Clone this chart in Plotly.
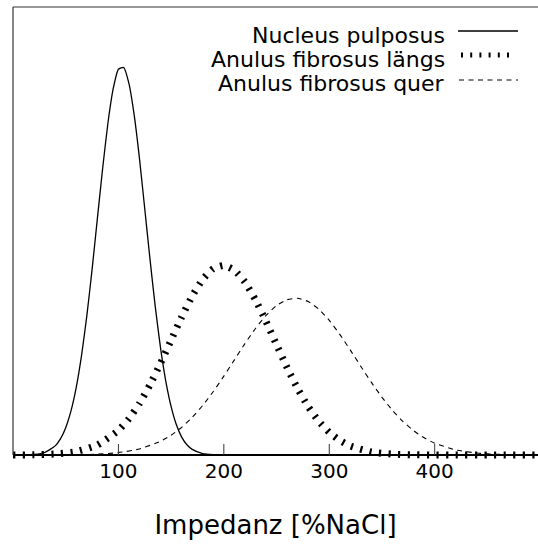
import plotly.graph_objects as go

# ---- data ----
x_nucleus = [0, 10, 20, 30, 40, 45, 50, 55, 60, 65, 70, 75, 80, 85, 90, 95, 100, 105, 110, 115, 120, 125, 130,
             135, 140, 145, 150, 155, 160, 165, 170, 180, 190, 200, 210, 250, 300, 400, 498]
y_nucleus = [0.0, 0.0002, 0.0013, 0.0056, 0.0204, 0.0361, 0.061, 0.0984, 0.151, 0.2217, 0.310, 0.4137, 0.527,
             0.639, 0.740, 0.817, 0.861, 0.865, 0.829, 0.758, 0.661, 0.549, 0.436, 0.330, 0.238, 0.164, 0.108,
             0.0674, 0.040, 0.0229, 0.0125, 0.0032, 0.0007, 0.0001, 0.0, 0.0, 0.0, 0.0, 0.0]

x_laengs = [0, 20, 40, 60, 80, 100, 110, 120, 130, 140, 150, 160, 170, 180, 190, 200, 210, 220, 230, 240, 250,
            260, 270, 280, 290, 300, 310, 320, 340, 360, 380, 400, 420, 450, 498]
y_laengs = [0.0001, 0.0005, 0.0022, 0.0076, 0.0222, 0.055, 0.0813, 0.115, 0.157, 0.205, 0.2566, 0.308, 0.355,
            0.392, 0.416, 0.423, 0.4125, 0.386, 0.3463, 0.298, 0.2461, 0.195, 0.148, 0.108, 0.0754, 0.0505,
            0.0325, 0.020, 0.0067, 0.0019, 0.0005, 0.0001, 0.0, 0.0, 0.0]

x_quer = [0, 20, 40, 60, 80, 100, 120, 140, 150, 160, 170, 180, 190, 200, 210, 220, 230, 240, 250, 260, 270,
          280, 290, 300, 310, 320, 330, 340, 350, 360, 370, 380, 390, 400, 420, 440, 460, 480, 498]
y_quer = [0.0, 0.0, 0.0002, 0.0006, 0.0018, 0.0053, 0.0135, 0.0307, 0.0442, 0.0618, 0.084, 0.1107, 0.1417,
          0.176, 0.2123, 0.2486, 0.2824, 0.3115, 0.3335, 0.3467, 0.350, 0.3426, 0.3257, 0.3006, 0.2693, 0.234,
          0.1977, 0.162, 0.1288, 0.0995, 0.0746, 0.0543, 0.0383, 0.0263, 0.0113, 0.0043, 0.0015, 0.0004, 0.0001]

series_names = ["Nucleus pulposus", "Anulus fibrosus längs", "Anulus fibrosus quer"]
tick_values = [100, 200, 300, 400]
tick_labels = ["100", "200", "300", "400"]
x_title = "Impedanz [%NaCl]"

# ---- layout geometry ----
W, H = 538, 546
ML, MR, MT, MB = 13, 0, 7, 84
PW, PH = W - ML - MR, H - MT - MB
YMAX = 1.0
YMIN = -7 / 448.0
FONT = "DejaVu Sans"


def px2paper_x(px):
    return (px - ML) / PW


def px2paper_y(py):
    return (H - MB - py) / PH


styles = [
    dict(color="black", width=1.3, dash="solid"),
    dict(color="black", width=7, dash="2.2px,7.4px"),
    dict(color="black", width=1.1, dash="5px,4.5px"),
]

fig = go.Figure()
for xs, ys, name, st in zip([x_nucleus, x_laengs, x_quer], [y_nucleus, y_laengs, y_quer], series_names, styles):
    fig.add_trace(go.Scatter(x=xs, y=ys, mode="lines", name=name,
                             line=dict(shape="spline", smoothing=0.5, **st),
                             showlegend=False, hoverinfo="skip"))

shapes = []
# left frame line (from baseline to top)
shapes.append(dict(type="line", xref="paper", yref="y", x0=0, x1=0, y0=0, y1=YMAX, line=dict(color="#333", width=1.2)))
# top frame line
shapes.append(dict(type="line", xref="paper", yref="paper", x0=0, x1=1, y0=1, y1=1, line=dict(color="#333", width=1.2)))
# inside tick marks at the baseline
for tv in tick_values:
    shapes.append(dict(type="line", xref="x", yref="y", x0=tv, x1=tv, y0=0, y1=11 / 448.0,
                       line=dict(color="#333", width=1)))

# legend (text on the left, sample on the right)
legend_rows_py = [31, 55, 80]
baselines_py = [43, 67, 92]
sample_x = [(458, 518), (461, 510), (459, 518)]
sample_w = [1.3, 5, 1.1]
sample_dash = ["solid", "2px,7.2px", "5px,4.5px"]
annotations = []
for name, ly, bl, (sx0, sx1), lw, dsh in zip(series_names, legend_rows_py, baselines_py, sample_x, sample_w, sample_dash):
    annotations.append(dict(text=name, xref="paper", yref="paper", x=px2paper_x(447), y=px2paper_y(bl - 8),
                            xanchor="right", yanchor="middle", showarrow=False,
                            font=dict(family=FONT, size=22, color="black")))
    shapes.append(dict(type="line", xref="paper", yref="paper", x0=px2paper_x(sx0), x1=px2paper_x(sx1),
                       y0=px2paper_y(ly), y1=px2paper_y(ly),
                       line=dict(color="black", width=lw, dash=dsh)))

fig.update_layout(
    width=W, height=H,
    margin=dict(l=ML, r=MR, t=MT, b=MB, pad=0),
    plot_bgcolor="white", paper_bgcolor="white",
    shapes=shapes, annotations=annotations,
    xaxis=dict(range=[0, 498], showgrid=False, zeroline=False, showline=False,
               tickvals=tick_values, ticktext=tick_labels, ticks="", ticklabelstandoff=-5,
               tickfont=dict(family=FONT, size=20, color="black"),
               title=dict(text=x_title, font=dict(family=FONT, size=26, color="black"), standoff=33)),
    yaxis=dict(range=[YMIN, YMAX], showgrid=False, showticklabels=False, ticks="",
               showline=False, zeroline=True, zerolinecolor="black", zerolinewidth=1.6),
)

fig.write_html("out.html")
